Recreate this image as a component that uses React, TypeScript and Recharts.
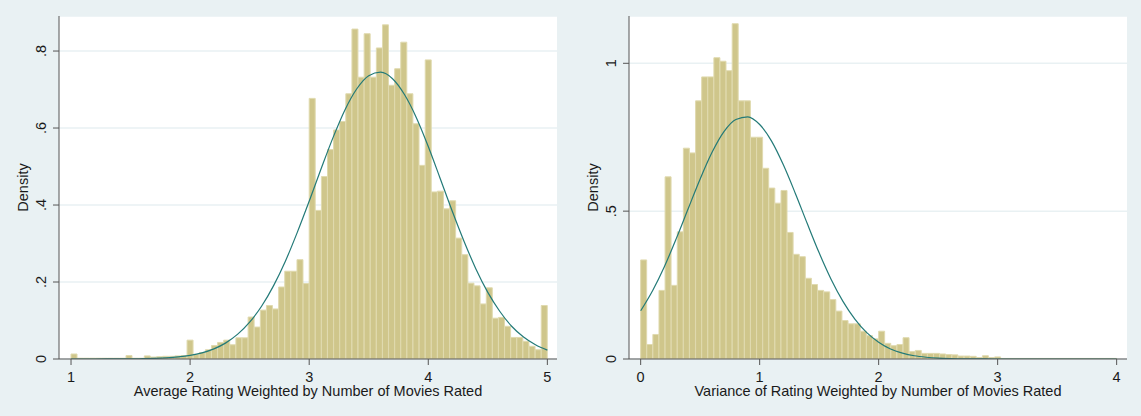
import {
  ComposedChart,
  Bar,
  Line,
  XAxis,
  YAxis,
  CartesianGrid,
} from "recharts";

// -------------------------
// THEME
// -------------------------
const BG = "#e9f1f3";
const BAR_FILL = "#cfc68b";
const BAR_EDGE = "#e0daaf";
const CURVE = "#237a78";
const AXIS = "#555555";
const TEXT = "#1a1a1a";
const FONT = "'Liberation Sans', Arial, sans-serif";
const FS = 14.5;

// -------------------------
// DATA
// -------------------------
// left: average rating, 78 bins between 1 and 5
const leftRange = [1, 5];
const leftDensity = [
  0.013, 0.002, 0.002, 0.002, 0.002, 0.002, 0.002, 0.002, 0.002, 0.009,
  0.002, 0.002, 0.008, 0.005, 0.006, 0.007, 0.007, 0.008, 0.009, 0.049,
  0.012, 0.017, 0.024, 0.035, 0.043, 0.049, 0.037, 0.055, 0.055, 0.109,
  0.083, 0.127, 0.139, 0.13, 0.187, 0.228, 0.228, 0.258, 0.196, 0.677,
  0.386, 0.474, 0.544, 0.595, 0.617, 0.689, 0.857, 0.732, 0.845, 0.732,
  0.808, 0.868, 0.711, 0.754, 0.823, 0.689, 0.611, 0.503, 0.777, 0.434,
  0.436, 0.39, 0.411, 0.314, 0.271, 0.197, 0.19, 0.143, 0.185, 0.106,
  0.108, 0.085, 0.056, 0.056, 0.046, 0.033, 0.024, 0.139,
];
// normal density overlay, read every 0.1 from 1.0 to 5.0
const leftCurve = [
  0, 0, 0, 0.0001, 0.0002, 0.0004, 0.0008, 0.0015, 0.0029, 0.0053,
  0.0093, 0.0159, 0.0263, 0.0419, 0.0645, 0.0957, 0.137, 0.19, 0.254, 0.329,
  0.41, 0.494, 0.575, 0.647, 0.702, 0.736, 0.745, 0.728, 0.687, 0.627,
  0.552, 0.469, 0.385, 0.306, 0.234, 0.173, 0.124, 0.085, 0.057, 0.037,
  0.023,
];
const leftXTicks = [1, 2, 3, 4, 5];
const leftYTicks = [0, 0.2, 0.4, 0.6, 0.8];

// right: variance of rating, 78 bins between 0 and 4
const rightRange = [0, 4];
const rightDensity = [
  0.335, 0.049, 0.083, 0.232, 0.616, 0.249, 0.43, 0.713, 0.697, 0.873,
  0.954, 0.954, 1.019, 1.007, 0.975, 1.134, 0.873, 0.873, 0.75, 0.75,
  0.645, 0.578, 0.527, 0.57, 0.428, 0.354, 0.346, 0.273, 0.252, 0.232,
  0.227, 0.201, 0.162, 0.13, 0.119, 0.119, 0.094, 0.079, 0.068, 0.094,
  0.053, 0.045, 0.049, 0.072, 0.025, 0.029, 0.019, 0.019, 0.019, 0.017,
  0.015, 0.014, 0.01, 0.01, 0.009, 0.005, 0.011, 0.005, 0.007, 0.002,
  0.002, 0.002, 0.002, 0.002, 0.002, 0.002, 0.002, 0.002, 0.002, 0.002,
  0.002, 0.002, 0.002, 0.002, 0.002, 0.002, 0.002, 0.002,
];
// normal density overlay, read every 0.1 from 0.0 to 4.0
const rightCurve = [
  0.163, 0.231, 0.313, 0.408, 0.509, 0.609, 0.699, 0.769, 0.81, 0.819,
  0.793, 0.737, 0.656, 0.56, 0.458, 0.359, 0.27, 0.195, 0.135, 0.089,
  0.057, 0.034, 0.02, 0.011, 0.006, 0.003, 0.0015, 0.0007, 0.0003, 0.0001,
  0, 0, 0, 0, 0, 0, 0, 0, 0, 0, 0,
];
const rightXTicks = [0, 1, 2, 3, 4];
const rightYTicks = [0, 0.5, 1];

// -------------------------
// HELPERS
// -------------------------
function toBins(range: number[], values: number[]) {
  const w = (range[1] - range[0]) / values.length;
  return values.map((d, i) => ({ x: range[0] + (i + 0.5) * w, density: d }));
}

function toCurve(start: number, values: number[]) {
  return values.map((y, i) => ({ x: +(start + i * 0.1).toFixed(2), y }));
}

function fmtY(v: number) {
  return v === 0 ? "0" : String(v).replace(/^0\./, ".");
}

function YTick(props: any) {
  const { x, y, payload } = props;
  return (
    <text
      x={x}
      y={y}
      dy="0.36em"
      transform={`rotate(-90 ${x} ${y})`}
      textAnchor="middle"
      fill={TEXT}
      fontSize={FS}
      fontFamily={FONT}
    >
      {fmtY(payload.value)}
    </text>
  );
}

function DensityLabel(props: any) {
  const vb = props.viewBox || { x: 0, y: 16, width: 59, height: 343 };
  const cx = vb.x + vb.width - 31;
  const cy = vb.y + vb.height / 2;
  return (
    <text
      x={cx}
      y={cy}
      transform={`rotate(-90 ${cx} ${cy})`}
      textAnchor="middle"
      fill={TEXT}
      fontSize={FS}
      fontFamily={FONT}
    >
      Density
    </text>
  );
}

function Panel({
  width,
  bins,
  curve,
  xDomain,
  yDomain,
  xTicks,
  yTicks,
  xLabel,
  marginRight,
}: {
  width: number;
  bins: { x: number; density: number }[];
  curve: { x: number; y: number }[];
  xDomain: number[];
  yDomain: number[];
  xTicks: number[];
  yTicks: number[];
  xLabel: string;
  marginRight: number;
}) {
  return (
    <ComposedChart
      width={width}
      height={416}
      data={bins}
      margin={{ top: 16, right: marginRight, bottom: 17, left: 0 }}
      barCategoryGap={0}
      barGap={0}
      style={{ fontFamily: FONT }}
    >
      <CartesianGrid
        vertical={false}
        stroke={BG}
        strokeWidth={1.5}
        fill="#ffffff"
      />
      <XAxis
        type="number"
        dataKey="x"
        domain={xDomain}
        allowDataOverflow
        ticks={xTicks}
        interval={0}
        height={40}
        tickSize={6}
        tickMargin={7}
        stroke={AXIS}
        tick={{ fill: TEXT, fontSize: FS, fontFamily: FONT }}
        label={{
          value: xLabel,
          position: "insideBottom",
          offset: 3.5,
          fill: TEXT,
          fontSize: FS,
          fontFamily: FONT,
        }}
      />
      <XAxis
        xAxisId="curve"
        type="number"
        dataKey="x"
        domain={xDomain}
        allowDataOverflow
        hide
      />
      <YAxis
        type="number"
        domain={yDomain}
        allowDataOverflow
        ticks={yTicks}
        interval={0}
        width={59}
        tickSize={6}
        tickMargin={12}
        stroke={AXIS}
        tick={<YTick />}
        label={{ content: (p: any) => <DensityLabel {...p} /> }}
      />
      <Bar
        dataKey="density"
        fill={BAR_FILL}
        stroke={BAR_EDGE}
        strokeWidth={1}
        isAnimationActive={false}
      />
      <Line
        xAxisId="curve"
        data={curve}
        dataKey="y"
        type="monotone"
        stroke={CURVE}
        strokeWidth={1.2}
        dot={false}
        activeDot={false}
        isAnimationActive={false}
      />
    </ComposedChart>
  );
}

export default function App() {
  return (
    <div
      style={{
        position: "absolute",
        left: 0,
        top: 0,
        width: 1141,
        height: 416,
        background: BG,
        overflow: "hidden",
      }}
    >
      <div style={{ position: "absolute", left: 0, top: 0 }}>
        <Panel
          width={570}
          bins={toBins(leftRange, leftDensity)}
          curve={toCurve(1, leftCurve)}
          xDomain={[0.899, 5.081]}
          yDomain={[0, 0.891]}
          xTicks={leftXTicks}
          yTicks={leftYTicks}
          xLabel="Average Rating Weighted by Number of Movies Rated"
          marginRight={13}
        />
      </div>
      <div style={{ position: "absolute", left: 570, top: 0 }}>
        <Panel
          width={571}
          bins={toBins(rightRange, rightDensity)}
          curve={toCurve(0, rightCurve)}
          xDomain={[-0.098, 4.087]}
          yDomain={[0, 1.16]}
          xTicks={rightXTicks}
          yTicks={rightYTicks}
          xLabel="Variance of Rating Weighted by Number of Movies Rated"
          marginRight={14}
        />
      </div>
    </div>
  );
}
